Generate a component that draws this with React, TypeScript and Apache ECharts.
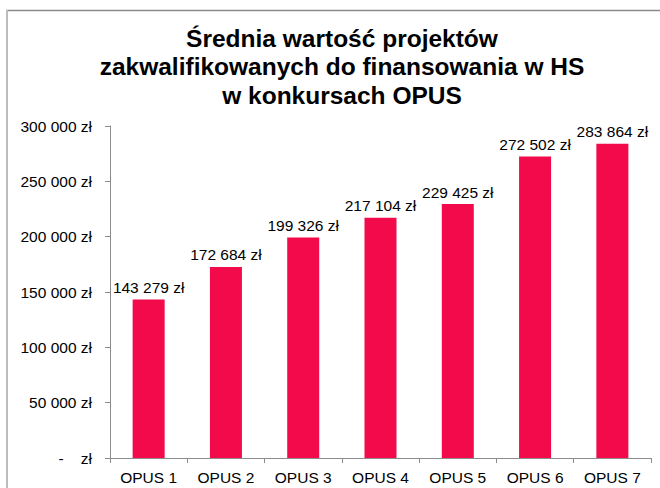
import React, { useEffect, useRef } from "react";
import * as echarts from "echarts";

const titleLines = [
  "Średnia wartość projektów",
  "zakwalifikowanych do finansowania w HS",
  "w konkursach OPUS",
];
const categories = ["OPUS 1", "OPUS 2", "OPUS 3", "OPUS 4", "OPUS 5", "OPUS 6", "OPUS 7"];
const values = [143279, 172684, 199326, 217104, 229425, 272502, 283864];
const yMin = 0;
const yMax = 300000;
const yInterval = 50000;

const FONT = "'Liberation Sans', Arial, sans-serif";

function fmt(n: number): string {
  if (n === 0) return "-    zł";
  const s = Math.round(n).toString().replace(/\B(?=(\d{3})+(?!\d))/g, " ");
  return s + " zł";
}

export default function App() {
  const ref = useRef<HTMLDivElement>(null);
  useEffect(() => {
    if (!ref.current) return;
    const chart = echarts.init(ref.current, null, { renderer: "svg" });
    chart.setOption({
      animation: false,
      backgroundColor: "#ffffff",
      title: {
        text: titleLines.join("\n"),
        left: 337,
        top: 19,
        textAlign: "center",
        textStyle: {
          fontFamily: FONT,
          fontWeight: "bold",
          fontSize: 24.5,
          lineHeight: 28.5,
          color: "#000000",
        },
      },
      graphic: [
        {
          type: "line",
          shape: { x1: 6, y1: 10.5, x2: 660, y2: 10.5 },
          style: { stroke: "#8a8a8a", lineWidth: 1.5 },
        },
        {
          type: "line",
          shape: { x1: 7, y1: 10, x2: 7, y2: 488 },
          style: { stroke: "#bdbdbd", lineWidth: 2 },
        },
      ],
      grid: { left: 110, right: 9, top: 126, bottom: 30, containLabel: false },
      xAxis: {
        type: "category",
        data: categories,
        boundaryGap: true,
        axisLine: { show: true, lineStyle: { color: "#8c8c8c", width: 1 } },
        axisTick: { show: true, length: 5, lineStyle: { color: "#8c8c8c" } },
        axisLabel: {
          margin: 11,
          fontFamily: FONT,
          fontSize: 15.5,
          color: "#000000",
        },
        splitLine: { show: false },
      },
      yAxis: {
        type: "value",
        min: yMin,
        max: yMax,
        interval: yInterval,
        axisLine: { show: true, lineStyle: { color: "#8c8c8c", width: 1 } },
        axisTick: { show: true, length: 5, lineStyle: { color: "#8c8c8c" } },
        axisLabel: {
          margin: 18,
          fontFamily: FONT,
          fontSize: 15.5,
          color: "#000000",
          formatter: (v: number) => fmt(v),
        },
        splitLine: { show: false },
      },
      series: [
        {
          type: "bar",
          data: values,
          barWidth: 32,
          itemStyle: { color: "#F20A4B" },
          label: {
            show: true,
            position: "top",
            distance: 4,
            fontFamily: FONT,
            fontSize: 15.5,
            color: "#000000",
            formatter: (p: any) => fmt(p.value),
          },
        },
      ],
    });
    return () => chart.dispose();
  }, []);
  return (
    <div
      ref={ref}
      style={{ position: "fixed", left: 0, top: 0, width: 660, height: 488 }}
    />
  );
}
